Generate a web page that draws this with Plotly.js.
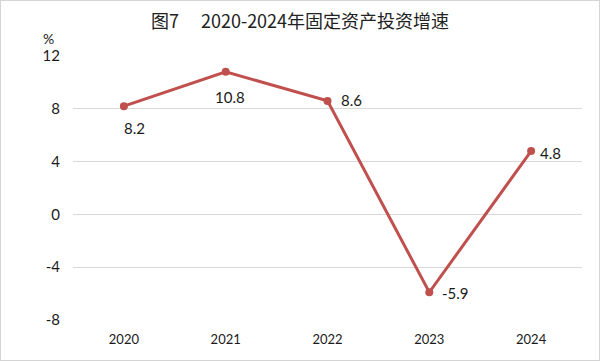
<!DOCTYPE html>
<html><head><meta charset="utf-8">
<script src="https://cdn.plot.ly/plotly-3.0.1.min.js"></script>
<style>
html,body{margin:0;padding:0;background:#fff;}
#wrap{position:relative;width:600px;height:361px;}
#chart{width:600px;height:361px;}
#frame{position:absolute;left:0;top:0;width:600px;height:361px;box-sizing:border-box;border:1px solid #d4d4d4;pointer-events:none;}
</style></head>
<body>
<div id="wrap"><div id="chart"></div><div id="frame"></div></div>
<script>
const years = ['2020','2021','2022','2023','2024'];
const growth = [8.2, 10.8, 8.6, -5.9, 4.8];
const yTicks = [-8, -4, 0, 4, 8, 12];
const titleText = '图7\u3000 2020-2024年固定资产投资增速';
const unitText = '%';

const labelPos = [
  {xanchor:'center', xshift:11, yshift:-22},
  {xanchor:'center', xshift:4, yshift:-25},
  {xanchor:'left', xshift:11, yshift:1},
  {xanchor:'left', xshift:11, yshift:-1},
  {xanchor:'left', xshift:7, yshift:-2}
];
const numFont = {family:'Lato, "Liberation Sans", sans-serif', size:15, color:'#1a1a1a'};

const annotations = years.map((y,i)=>Object.assign({
  x:i, y:growth[i], xref:'x', yref:'y', text:growth[i].toFixed(1), showarrow:false,
  yanchor:'middle', font:numFont
}, labelPos[i]));
annotations.push({xref:'paper', yref:'paper', x:(48-73)/509, y:(320-38)/264, text:unitText,
  showarrow:false, xanchor:'center', yanchor:'middle', font:{family:'Lato, sans-serif', size:14, color:'#1a1a1a'}});

Plotly.newPlot('chart', [{
  x: years, y: growth, type:'scatter', mode:'lines+markers',
  line:{color:'#C0504D', width:3},
  marker:{color:'#C0504D', size:8},
  hoverinfo:'none'
}], {
  width:600, height:361,
  margin:{l:73, r:18, t:56, b:41},
  paper_bgcolor:'#fff', plot_bgcolor:'#fff',
  showlegend:false,
  title:{text:titleText, x:0.5, xanchor:'center', y:1-22/361, yanchor:'middle', yref:'container',
    font:{family:'"Noto Sans CJK SC", sans-serif', size:18, color:'#222'}},
  xaxis:{type:'category', range:[-0.5,4.5], showgrid:false, zeroline:false, showline:false, ticks:'',
    ticklabelstandoff:10,
    tickfont:{family:'Lato, sans-serif', size:13, color:'#1a1a1a'}, fixedrange:true},
  yaxis:{range:[-8,12], tickvals:yTicks, ticktext:yTicks.map(String), showgrid:true, gridcolor:'#d9d9d9', gridwidth:1,
    zeroline:false, showline:false, ticks:'', ticklabelstandoff:12,
    tickfont:{family:'Lato, sans-serif', size:15, color:'#1a1a1a'}, fixedrange:true},
  annotations: annotations
}, {displayModeBar:false, staticPlot:true});
</script>
</body></html>
